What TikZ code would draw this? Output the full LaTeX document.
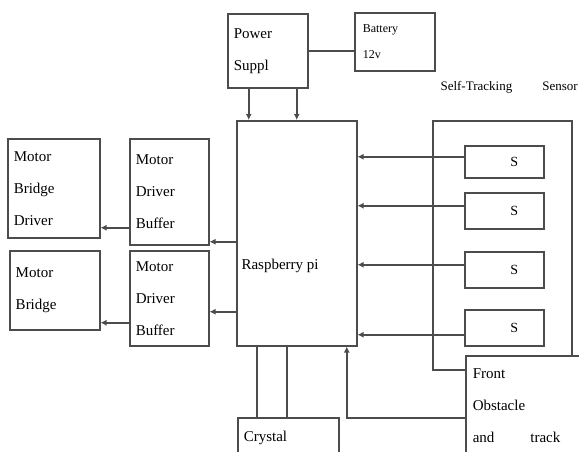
\documentclass[tikz,border=0pt]{standalone}
\usepackage{fontspec}
\setmainfont{Liberation Serif}
\usepackage{tikz}
\usetikzlibrary{arrows.meta,calc}

\begin{document}
\begin{tikzpicture}[
  x=1pt, y=-1pt,
  blk/.style 2 args={draw=black!70, line width=1.5pt, anchor=north west, inner xsep=6pt,
    minimum width=#1, minimum height=#2, text width=#1-12pt, align=left,
    font=\fontsize{15}{32}\selectfont},
  sbox/.style={draw=black!70, line width=1.5pt, anchor=north west, minimum width=79pt,
    font=\fontsize{14}{16}\selectfont},
  wire/.style={draw=black!70, line width=1.5pt},
  arr/.style={wire, -{Latex[length=6pt,width=6pt]}}]
\useasboundingbox (0,0) rectangle (579,451);
% power and controller
\node[blk={80pt}{74pt}] (power) at (227,13) {Power\\Suppl};
\node[blk={80pt}{58pt}, inner xsep=8pt, text width=64pt, font=\fontsize{12}{26}\selectfont] (batt) at (354,12) {Battery\\12v};
\node[blk={120pt}{225pt}] (rpi) at (236,120) {};
\node[anchor=west, font=\fontsize{15}{16}\selectfont] (rpitxt) at (238,266) {Raspberry pi};
% motor side
\node[blk={92pt}{99pt}] (mbd) at (7,138) {Motor\\Bridge\\Driver};
\node[blk={79pt}{106pt}] (buf1) at (129,138) {Motor\\Driver\\Buffer};
\node[blk={90pt}{79pt}] (mb) at (9,250) {Motor\\Bridge};
\node[blk={79pt}{95pt}] (buf2) at (129,250) {Motor\\Driver\\Buffer};
% sensors
\node[anchor=west, font=\fontsize{13}{14}\selectfont] (sttxt) at (437,87) {Self-Tracking\hspace{30pt}Sensor};
\node[sbox, minimum height=32pt] (s1) at (464,145) {\hspace{20pt}S};
\node[sbox, minimum height=36pt] (s2) at (464,192) {\hspace{20pt}S};
\node[sbox, minimum height=36pt] (s3) at (464,251) {\hspace{20pt}S};
\node[sbox, minimum height=36pt] (s4) at (464,309) {\hspace{20pt}S};
\node[blk={125pt}{100pt}, inner xsep=7pt, text width=111pt] (front) at (465,355) {Front\\Obstacle\\and\hspace{36pt}track};
\node[blk={101pt}{40pt}] (xtal) at (237,417) {Crystal};
\coordinate (stl) at (433,121);
\coordinate (str) at (572,121);

\draw[wire] (power.east) -- (power.east -| batt.west);
\draw[arr] ([xshift=-19pt]power.south) -- ([xshift=-19pt]power.south |- rpi.north);
\draw[arr] ([xshift=29pt]power.south) -- ([xshift=29pt]power.south |- rpi.north);
\draw[arr] ([yshift=5pt]s1.west) -- ([yshift=5pt]s1.west -| rpi.east);
\draw[arr] ([yshift=5pt]s2.west) -- ([yshift=5pt]s2.west -| rpi.east);
\draw[arr] ([yshift=5pt]s3.west) -- ([yshift=5pt]s3.west -| rpi.east);
\draw[arr] ([yshift=-7pt]s4.west) -- ([yshift=-7pt]s4.west -| rpi.east);
\draw[arr] ([yshift=-8.5pt]rpi.west) -- ([yshift=-8.5pt]rpi.west -| buf1.east);
\draw[arr] ([yshift=-78.5pt]rpi.west) -- ([yshift=-78.5pt]rpi.west -| buf2.east);
\draw[arr] ([yshift=-36pt]buf1.west) -- ([yshift=-36pt]buf1.west -| mbd.east);
\draw[arr] ([yshift=-24.5pt]buf2.west) -- ([yshift=-24.5pt]buf2.west -| mb.east);
\draw[wire] ([xshift=-40pt]rpi.south) -- ([xshift=-40pt]rpi.south |- xtal.north);
\draw[wire] ([xshift=-10pt]rpi.south) -- ([xshift=-10pt]rpi.south |- xtal.north);
\draw[arr] ([yshift=-12pt]front.west) -| ([xshift=50pt]rpi.south);
\draw[wire] ([yshift=36pt]front.west) -| (stl) -- (str) -- (str |- front.north);
\end{tikzpicture}
\end{document}
